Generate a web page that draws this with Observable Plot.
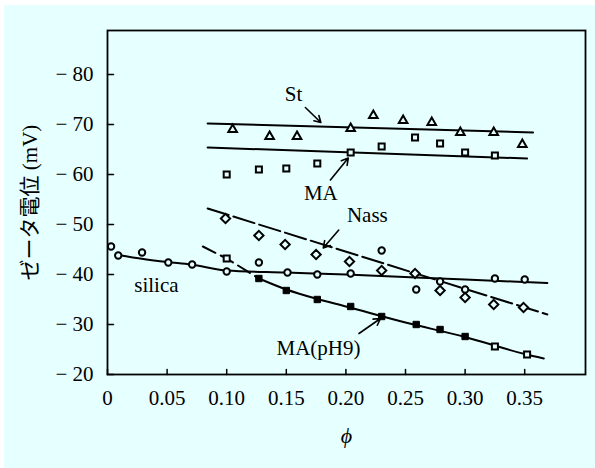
<!DOCTYPE html>
<html>
<head>
<meta charset="utf-8">
<script src="https://cdn.jsdelivr.net/npm/d3@7"></script>
<script src="https://cdn.jsdelivr.net/npm/@observablehq/plot@0.6"></script>
<style>
  html, body { margin: 0; padding: 0; background: #ffffff; }
  #chart svg { display: block; }
  #chart svg text { font-family: "Times New Roman", "Liberation Serif", "DejaVu Serif", "Noto Sans CJK JP", serif !important; }
</style>
</head>
<body>
<div id="chart"></div>
<script>
// ---- tick values & labels ----
const xTicks = [0, 0.05, 0.10, 0.15, 0.20, 0.25, 0.30, 0.35];
const xTickLabels = ["0", "0.05", "0.10", "0.15", "0.20", "0.25", "0.30", "0.35"];
const yTicks = [-80, -70, -60, -50, -40, -30, -20];
const yTickLabels = ["\u2212 80", "\u2212 70", "\u2212 60", "\u2212 50", "\u2212 40", "\u2212 30", "\u2212 20"];
const xLabel = "\u03d5";
const yLabel = "ゼータ電位 (mV)";

// ---- measured points (phi, zeta mV) ----
const stPhi = [0.105, 0.136, 0.159, 0.204, 0.223, 0.248, 0.272, 0.296, 0.324, 0.348];
const stZeta = [-69.0, -67.6, -67.6, -69.2, -71.8, -70.8, -70.4, -68.4, -68.4, -66.0];

const maPhi = [0.100, 0.127, 0.150, 0.176, 0.204, 0.230, 0.258, 0.279, 0.300, 0.325];
const maZeta = [-60.0, -61.0, -61.2, -62.2, -64.4, -65.6, -67.4, -66.2, -64.4, -63.8];

const nassPhi = [0.099, 0.127, 0.149, 0.175, 0.203, 0.230, 0.258, 0.279, 0.300, 0.324, 0.349];
const nassZeta = [-51.2, -47.8, -46.0, -44.0, -42.6, -40.8, -40.2, -36.8, -35.4, -34.0, -33.4];

const silicaPhi = [0.003, 0.009, 0.029, 0.051, 0.071, 0.100, 0.127, 0.151, 0.176, 0.204, 0.230, 0.259, 0.279, 0.300, 0.325, 0.350];
const silicaZeta = [-45.6, -43.8, -44.4, -42.4, -42.0, -40.6, -42.4, -40.4, -40.0, -40.2, -44.8, -37.0, -38.6, -37.0, -39.2, -39.0];

const ph9FilledPhi = [0.127, 0.150, 0.176, 0.204, 0.230, 0.259, 0.279, 0.300];
const ph9FilledZeta = [-39.2, -36.8, -35.0, -33.6, -31.6, -30.0, -29.0, -27.6];
const ph9OpenPhi = [0.100, 0.325, 0.352];
const ph9OpenZeta = [-43.2, -25.6, -24.0];

// ---- fitted curves ----
const stFitPhi = [0.084, 0.357];
const stFitZeta = [-70.2, -68.4];
const maFitPhi = [0.084, 0.352];
const maFitZeta = [-65.4, -63.2];
const nassFitPhi = [0.084, 0.369];
const nassFitZeta = [-53.2, -32.0];
const silicaFitPhi = [0.009, 0.030, 0.050, 0.070, 0.100, 0.150, 0.200, 0.300, 0.369];
const silicaFitZeta = [-43.9, -43.1, -42.5, -42.0, -40.8, -40.4, -40.0, -39.0, -38.3];
const ph9DashPhi = [0.080, 0.100, 0.127];
const ph9DashZeta = [-45.6, -43.2, -39.2];
const ph9FitPhi = [0.127, 0.150, 0.176, 0.200, 0.250, 0.300, 0.350, 0.366];
const ph9FitZeta = [-39.2, -37.0, -35.1, -33.6, -30.4, -27.5, -24.1, -23.2];

// ---- annotations ----
const labelText = ["St", "MA", "Nass", "silica", "MA(pH9)"];
const labelPhi = [0.156, 0.179, 0.218, 0.041, 0.177];
const labelZeta = [-76.0, -56.3, -51.9, -37.9, -25.2];
const arrowPhi1 = [0.166, 0.187, 0.194, 0.211];
const arrowZeta1 = [-73.4, -58.9, -48.9, -28.2];
const arrowPhi2 = [0.179, 0.202, 0.181, 0.229];
const arrowZeta2 = [-70.4, -63.3, -45.3, -31.2];

const bg = "#e6ffff";
const font = "'Times New Roman', 'Liberation Serif', 'DejaVu Serif', 'Noto Sans CJK JP', serif";
const zip = (xs, ys) => xs.map((x, i) => ({x, y: ys[i]}));
const labels = labelText.map((t, i) => ({t, x: labelPhi[i], y: labelZeta[i]}));
const arrows = arrowPhi1.map((x1, i) => ({x1, y1: arrowZeta1[i], x2: arrowPhi2[i], y2: arrowZeta2[i]}));

// inward tick shape for vector marks
const tickShape = {draw(context, l) { context.moveTo(0, 0); context.lineTo(0, -l); }};

const chart = Plot.plot({
  width: 595,
  height: 468,
  marginLeft: 107,
  marginRight: 10,
  marginTop: 30,
  marginBottom: 94,
  style: {
    background: `linear-gradient(to bottom, #ffffff 5px, transparent 5px), linear-gradient(to right, #ffffff 4px, ${bg} 4px)`,
    fontFamily: font, fontSize: "21px", color: "black"
  },
  x: {domain: [0, 0.401]},
  y: {domain: [-20, -88.8]},
  marks: [
    Plot.frame({stroke: "black", strokeWidth: 1.8}),
    Plot.axisX({ticks: xTicks, tickFormat: d => xTickLabels[xTicks.indexOf(d)], tickSize: 0, tickPadding: 16, label: null, fontSize: 21, fontFamily: font}),
    Plot.axisY({ticks: yTicks, tickFormat: d => yTickLabels[yTicks.indexOf(d)], tickSize: 0, tickPadding: 14, label: null, fontSize: 21, fontFamily: font}),
    Plot.vector(xTicks, {x: d => d, frameAnchor: "bottom", anchor: "start", length: 5, rotate: 0, shape: tickShape, stroke: "black", strokeWidth: 1.5}),
    Plot.vector(yTicks, {y: d => d, frameAnchor: "left", anchor: "start", length: 6, rotate: 90, shape: tickShape, stroke: "black", strokeWidth: 1.5}),
    Plot.text([xLabel], {frameAnchor: "bottom", dy: 68, fontStyle: "italic", fontSize: 22, fontFamily: font}),
    Plot.text([yLabel], {frameAnchor: "left", textAnchor: "middle", dx: -77, rotate: -90, fontSize: 21, fontFamily: font}),

    Plot.line(zip(stFitPhi, stFitZeta), {x: "x", y: "y", stroke: "black", strokeWidth: 2}),
    Plot.line(zip(maFitPhi, maFitZeta), {x: "x", y: "y", stroke: "black", strokeWidth: 2}),
    Plot.line(zip(nassFitPhi, nassFitZeta), {x: "x", y: "y", stroke: "black", strokeWidth: 2, strokeDasharray: "22,5"}),
    Plot.line(zip(silicaFitPhi, silicaFitZeta), {x: "x", y: "y", stroke: "black", strokeWidth: 2, curve: "monotone-x"}),
    Plot.line(zip(ph9DashPhi, ph9DashZeta), {x: "x", y: "y", stroke: "black", strokeWidth: 2, strokeDasharray: "14,6"}),
    Plot.line(zip(ph9FitPhi, ph9FitZeta), {x: "x", y: "y", stroke: "black", strokeWidth: 2, curve: "monotone-x"}),

    Plot.dot(zip(stPhi, stZeta), {x: "x", y: "y", symbol: "triangle", r: 3.2, stroke: "black", strokeWidth: 2, fill: bg}),
    Plot.dot(zip(maPhi, maZeta), {x: "x", y: "y", symbol: "square", r: 3.4, stroke: "black", strokeWidth: 2, fill: bg}),
    Plot.dot(zip(nassPhi, nassZeta), {x: "x", y: "y", symbol: "diamond2", r: 4.2, stroke: "black", strokeWidth: 2, fill: bg}),
    Plot.dot(zip(silicaPhi, silicaZeta), {x: "x", y: "y", symbol: "circle", r: 3.2, stroke: "black", strokeWidth: 2, fill: bg}),
    Plot.dot(zip(ph9FilledPhi, ph9FilledZeta), {x: "x", y: "y", symbol: "square", r: 3.6, stroke: "black", strokeWidth: 1, fill: "black"}),
    Plot.dot(zip(ph9OpenPhi, ph9OpenZeta), {x: "x", y: "y", symbol: "square", r: 3.4, stroke: "black", strokeWidth: 2, fill: bg}),

    Plot.arrow(arrows, {x1: "x1", y1: "y1", x2: "x2", y2: "y2", stroke: "black", strokeWidth: 1.6, headLength: 7}),
    Plot.text(labels, {x: "x", y: "y", text: "t", fontSize: 21, fill: "black", fontFamily: font})
  ]
});
document.getElementById("chart").append(chart);
</script>
</body>
</html>
